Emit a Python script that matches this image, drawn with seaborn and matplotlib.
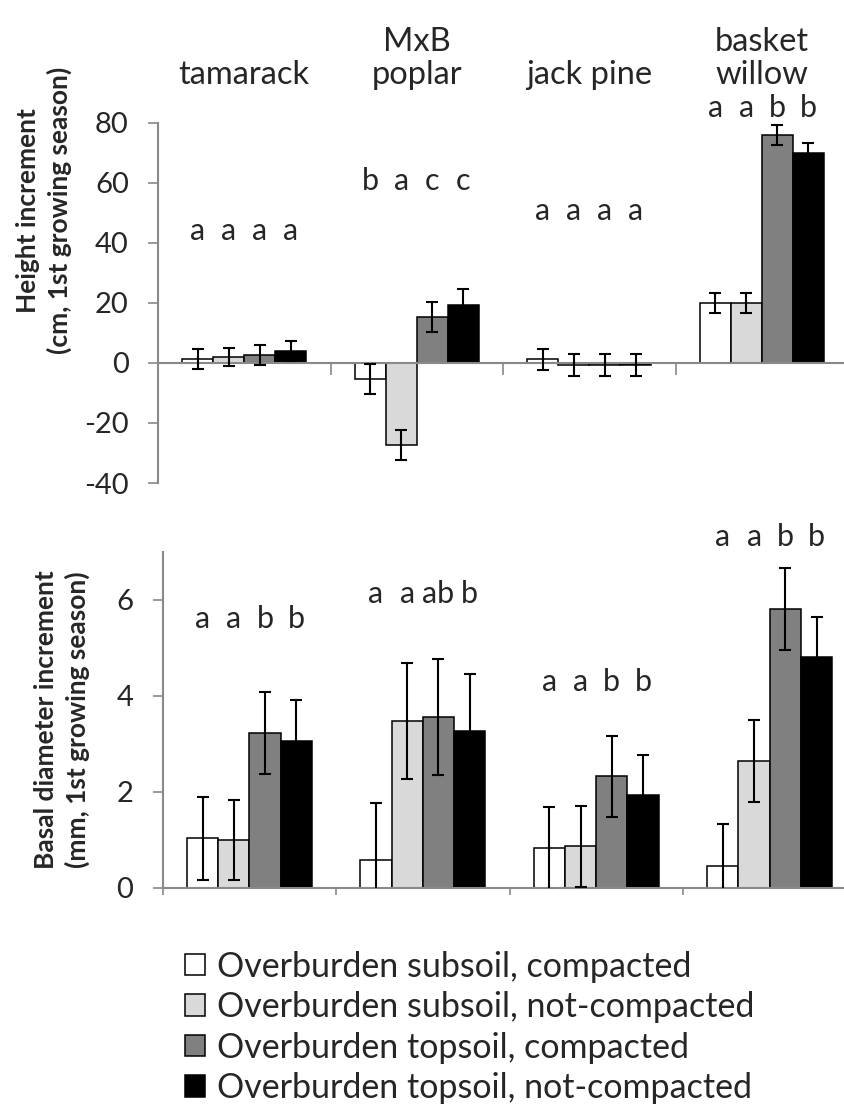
import numpy as np
import pandas as pd
import seaborn as sns
import matplotlib.pyplot as plt
from matplotlib.transforms import blended_transform_factory

sns.set_theme(style='white')
plt.rcParams['font.family'] = ['Lato', 'DejaVu Sans']
plt.rcParams['axes.unicode_minus'] = False

# species and soil treatments
species = ['tamarack', 'MxB\npoplar', 'jack pine', 'basket\nwillow']
treatments = ['Overburden subsoil, compacted',
              'Overburden subsoil, not-compacted',
              'Overburden topsoil, compacted',
              'Overburden topsoil, not-compacted']
colors = ['#ffffff', '#d9d9d9', '#808080', '#000000']

# height increment (cm), one row per treatment, one column per species
height_mean = [[1.3, -5.4, 1.3, 20.0],
               [2.0, -27.3, -0.7, 20.0],
               [2.7, 15.3, -0.7, 76.0],
               [4.0, 19.3, -0.7, 70.0]]
height_err = [[3.4, 5.0, 3.5, 3.4],
              [3.0, 4.9, 3.6, 3.4],
              [3.3, 5.0, 3.6, 3.3],
              [3.3, 5.3, 3.6, 3.2]]

# basal diameter increment (mm)
diam_mean = [[1.03, 0.57, 0.82, 0.45],
             [0.99, 3.48, 0.86, 2.64],
             [3.22, 3.56, 2.32, 5.80],
             [3.06, 3.27, 1.94, 4.81]]
diam_err = [[0.87, 1.20, 0.87, 0.87],
            [0.83, 1.21, 0.84, 0.85],
            [0.85, 1.21, 0.85, 0.85],
            [0.86, 1.19, 0.82, 0.82]]

# significance letters, one list per species
height_letters = [['a', 'a', 'a', 'a'], ['b', 'a', 'c', 'c'],
                  ['a', 'a', 'a', 'a'], ['a', 'a', 'b', 'b']]
height_letter_y = [41, 57.7, 47.7, 82]
diam_letters = [['a', 'a', 'b', 'b'], ['a', 'a', 'ab', 'b'],
                ['a', 'a', 'b', 'b'], ['a', 'a', 'b', 'b']]
diam_letter_y = [5.41, 5.93, 4.10, 7.11]

rows = []
for i, t in enumerate(treatments):
    for j, s in enumerate(species):
        rows.append({'species': s, 'treatment': t,
                     'height': height_mean[i][j], 'height_err': height_err[i][j],
                     'diam': diam_mean[i][j], 'diam_err': diam_err[i][j]})
df = pd.DataFrame(rows)

axis_grey = '#898989'
tick_fs = 21
letter_fs = 22
cat_fs = 23.5
legend_fs = 24.5
label_fs = 19

fig = plt.figure(figsize=(8.45, 11.04), dpi=100)
ax1 = fig.add_axes([0.187, 0.5625, 0.8166, 0.3261])
ax2 = fig.add_axes([0.1925, 0.1959, 0.821, 0.3044])


def draw_panel(ax, col, errs, letters, letter_y):
    sns.barplot(data=df, x='species', y=col, hue='treatment', order=species,
                hue_order=treatments, palette=colors, saturation=1,
                edgecolor='black', linewidth=1.1, width=0.72, gap=0,
                errorbar=None, ax=ax)
    bar_groups = list(ax.containers)[:4]
    for i, cont in enumerate(bar_groups):
        xs = [b.get_x() + b.get_width() / 2 for b in cont]
        ax.errorbar(xs, df[df['treatment'] == treatments[i]][col].values,
                    yerr=errs[i], fmt='none', ecolor='black', elinewidth=1.5,
                    capsize=4.5, capthick=1.5, zorder=5)
        for j, x in enumerate(xs):
            ax.text(x, letter_y[j], letters[j][i], ha='center', va='baseline',
                    fontsize=letter_fs)
    ax.get_legend().remove()
    for side in ['top', 'right']:
        ax.spines[side].set_visible(False)
    for side in ['left', 'bottom']:
        ax.spines[side].set_color(axis_grey)
        ax.spines[side].set_linewidth(1.5)
    ax.set_xlim(-0.5, 3.5)
    ax.set_xticks(np.arange(-0.5, 4, 1))
    ax.set_xticklabels([])
    ax.set_xlabel('')
    ax.tick_params(axis='y', direction='out', length=7, width=1.2,
                   color=axis_grey, labelsize=tick_fs, left=True, pad=14)
    ax.tick_params(axis='x', direction='out', width=1.2, color=axis_grey,
                   bottom=True)


# top panel: height
draw_panel(ax1, 'height', height_err, height_letters, height_letter_y)
ax1.set_ylim(-40, 80)
ax1.set_yticks([-40, -20, 0, 20, 40, 60, 80])
ax1.spines['bottom'].set_position(('data', 0))
ax1.tick_params(axis='x', length=8.5)
ax1.set_ylabel('Height increment\n(cm, 1st growing season)', fontsize=label_fs,
               fontweight='bold', linespacing=1.3)
ax1.yaxis.set_label_coords(-0.125, 0.756)
trans = blended_transform_factory(ax1.transData, ax1.transAxes)
for j, s in enumerate(species):
    ax1.text(j, 1.093, s, transform=trans, ha='center', va='bottom',
             fontsize=cat_fs, linespacing=1.1)

# bottom panel: basal diameter
draw_panel(ax2, 'diam', diam_err, diam_letters, diam_letter_y)
ax2.set_ylim(0, 7)
ax2.set_yticks([0, 2, 4, 6])
ax2.tick_params(axis='x', length=5)
ax2.set_ylabel('Basal diameter increment\n(mm, 1st growing season)',
               fontsize=label_fs, fontweight='bold', linespacing=1.3)
ax2.yaxis.set_label_coords(-0.105, 0.5)

handles = [c[0] for c in list(ax1.containers)[:4]]
fig.legend(handles, treatments, loc='upper left',
           bbox_to_anchor=(0.219, 0.139), frameon=False, fontsize=legend_fs,
           handlelength=0.6, handleheight=0.6, handletextpad=0.35,
           labelspacing=0.25, borderpad=0, borderaxespad=0)

fig.savefig('out.png', dpi=100)
